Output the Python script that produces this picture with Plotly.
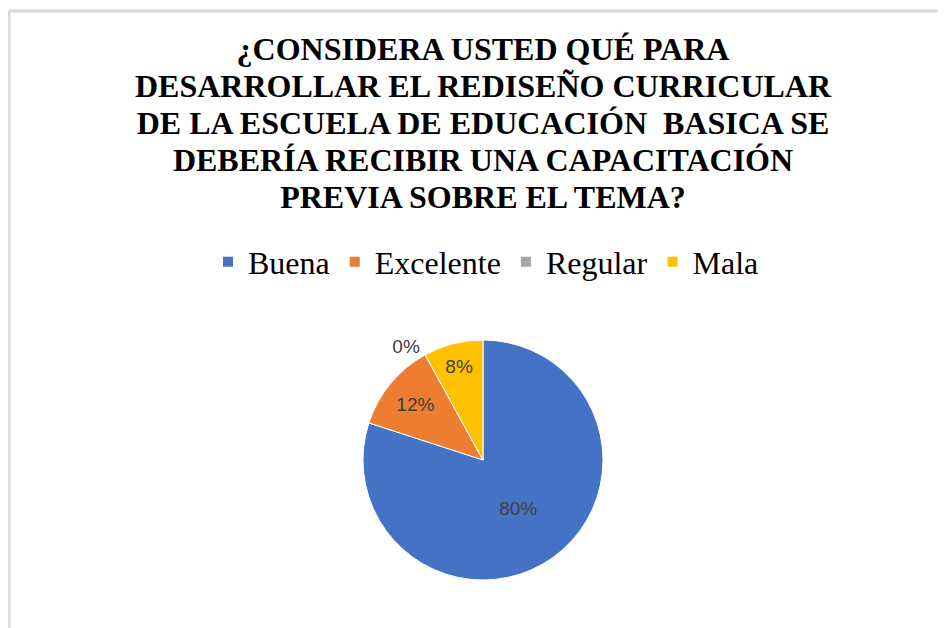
import plotly.graph_objects as go

categories = ["Buena", "Excelente", "Regular", "Mala"]
values = [80, 12, 0, 8]
colors = ["#4472C4", "#ED7D31", "#A5A5A5", "#FFC000"]
title_lines = ["¿CONSIDERA USTED QUÉ PARA",
               "DESARROLLAR EL REDISEÑO CURRICULAR",
               "DE LA ESCUELA DE EDUCACIÓN  BASICA SE",
               "DEBERÍA RECIBIR UNA CAPACITACIÓN",
               "PREVIA SOBRE EL TEMA?"]

# page body has an 8px margin, so the figure is shifted by 8px
OFF = 8
W, H = 945 - OFF, 628 - OFF


def px(x):
    return (x - OFF) / W


def py(y):
    return 1 - (y - OFF) / H


# glyphs at 32px, line spacing driven by the 28.5px base size (tight, like the original)
title_text = '<span style="font-size:32px"><b>' + "<br>".join(title_lines) + "</b></span>"

fig = go.Figure()
fig.add_trace(go.Pie(
    labels=categories,
    values=values,
    sort=False,
    direction="clockwise",
    rotation=0,
    marker=dict(colors=colors, line=dict(color="white", width=1)),
    texttemplate="%{percent:.0%}",
    textposition=["inside", "inside", "outside", "inside"],
    textfont=dict(family="Liberation Sans, Arial", size=19, color="#404040"),
    insidetextorientation="horizontal",
    domain=dict(x=[px(363), px(603)], y=[py(580), py(340)]),
    showlegend=True,
    hoverinfo="label+percent",
))

fig.update_layout(
    width=W,
    height=H,
    margin=dict(l=0, r=0, t=0, b=0),
    paper_bgcolor="white",
    plot_bgcolor="white",
    font=dict(family="Liberation Serif, Times New Roman, serif"),
    title=dict(
        text=title_text,
        x=px(483),
        xanchor="center",
        y=py(60),
        yanchor="top",
        font=dict(family="Liberation Serif, Times New Roman, serif", size=28.5, color="#000000"),
    ),
    legend=dict(
        orientation="h",
        x=px(486),
        xanchor="center",
        y=py(262),
        yanchor="middle",
        font=dict(family="Liberation Serif, Times New Roman, serif", size=32, color="#000000"),
        itemsizing="constant",
    ),
    shapes=[
        dict(type="line", xref="paper", yref="paper", x0=px(9), x1=px(9), y0=0, y1=py(11),
             line=dict(color="#D9D9D9", width=3)),
        dict(type="line", xref="paper", yref="paper", x0=px(9), x1=1, y0=py(11), y1=py(11),
             line=dict(color="#D9D9D9", width=3)),
    ],
)

fig.write_html("out.html")
